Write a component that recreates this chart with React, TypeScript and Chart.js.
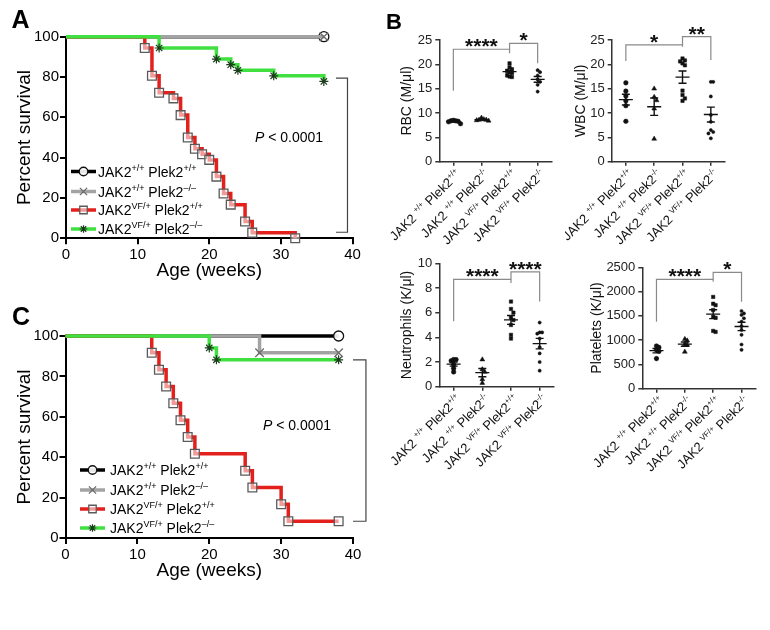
import React, { useEffect, useRef } from 'react';
import { Chart, registerables } from 'chart.js';
Chart.register(...registerables);

const FONT = '"Liberation Sans", Arial, Helvetica, sans-serif';

type Run = { t: string; sup?: boolean };

// ---------------- Panel A (Kaplan–Meier) ----------------
const A_WT_WEEKS = [0, 36];
const A_WT_SURV = [100, 100];
const A_KO_WEEKS = [0, 36];
const A_KO_SURV = [100, 100];
const A_VF_WEEKS = [0, 11, 12, 13, 15, 16, 17, 18, 19, 20, 21, 22, 23, 25, 26, 32];
const A_VF_SURV = [100, 94.4, 80.6, 72.2, 69.4, 61.1, 50, 44.4, 41.7, 38.9, 30.6, 22.2, 16.7, 8.3, 2.8, 0];
const A_VFKO_WEEKS = [0, 13, 21, 23, 24, 29, 36];
const A_VFKO_SURV = [100, 94.4, 88.9, 86.1, 83.3, 80.6, 77.8];

// ---------------- Panel C (Kaplan–Meier) ----------------
const C_WT_WEEKS = [0, 38];
const C_WT_SURV = [100, 100];
const C_KO_WEEKS = [0, 27, 38];
const C_KO_SURV = [100, 91.7, 91.7];
const C_VF_WEEKS = [0, 12, 13, 14, 15, 16, 17, 18, 25, 26, 30, 31, 38];
const C_VF_SURV = [100, 91.7, 83.3, 75, 66.7, 58.3, 50, 41.7, 33.3, 25, 16.7, 8.3, 8.3];
const C_VFKO_WEEKS = [0, 20, 21, 38];
const C_VFKO_SURV = [100, 94.1, 88.2, 88.2];

const SURV_X_TICKS = [0, 10, 20, 30, 40];
const SURV_Y_TICKS = [0, 20, 40, 60, 80, 100];
const P_TEXT = '< 0.0001';

const LEGEND_LABELS: Run[][] = [
  [{ t: 'JAK2' }, { t: '+/+', sup: true }, { t: ' Plek2' }, { t: '+/+', sup: true }],
  [{ t: 'JAK2' }, { t: '+/+', sup: true }, { t: ' Plek2' }, { t: '\u2013/\u2013', sup: true }],
  [{ t: 'JAK2' }, { t: 'VF/+', sup: true }, { t: ' Plek2' }, { t: '+/+', sup: true }],
  [{ t: 'JAK2' }, { t: 'VF/+', sup: true }, { t: ' Plek2' }, { t: '\u2013/\u2013', sup: true }],
];

// ---------------- Panel B (scatter) ----------------
const B_LABELS: Run[][] = [
  [{ t: 'JAK2 ' }, { t: '+/+', sup: true }, { t: ' Plek2' }, { t: '+/+', sup: true }],
  [{ t: 'JAK2 ' }, { t: '+/+', sup: true }, { t: ' Plek2' }, { t: '-/-', sup: true }],
  [{ t: 'JAK2 ' }, { t: 'VF/+', sup: true }, { t: ' Plek2' }, { t: '+/+', sup: true }],
  [{ t: 'JAK2 ' }, { t: 'VF/+', sup: true }, { t: ' Plek2' }, { t: '-/-', sup: true }],
];

const RBC_WT = [8.3, 8.4, 8.5, 8.2, 7.8, 8.4];
const RBC_KO = [8.5, 8.6, 8.7, 8.4, 9.0, 8.6];
const RBC_VF = [20.2, 19.4, 19.0, 18.7, 18.4, 18.2, 17.7, 17.5, 17.4];
const RBC_VFKO = [18.8, 18.4, 17.7, 16.9, 16.4, 15.8, 14.4];

const WBC_WT = [16.2, 14.5, 13.5, 12.5, 11.5, 8.3];
const WBC_KO = [15.0, 13.3, 12.6, 10.9, 4.7];
const WBC_VF = [21.2, 20.8, 20.6, 20.2, 19.8, 14.6, 13.7, 13.0, 12.5];
const WBC_VFKO = [16.4, 16.4, 13.4, 9.6, 8.2, 6.5, 6.1, 5.8, 4.8];

const NEU_WT = [2.2, 2.2, 2.1, 1.8, 1.5, 1.2];
const NEU_KO = [2.2, 1.4, 1.2, 0.6, 0.3];
const NEU_VF = [6.9, 6.3, 6.0, 5.6, 5.4, 5.0, 4.2, 3.9];
const NEU_VFKO = [5.2, 4.4, 4.4, 4.3, 3.9, 3.2, 2.7, 2.0, 1.3];

const PLT_WT = [880, 850, 800, 770, 620];
const PLT_KO = [1020, 990, 920, 900, 760];
const PLT_VF = [1890, 1750, 1720, 1620, 1480, 1460, 1190, 1170];
const PLT_VFKO = [1600, 1550, 1520, 1450, 1380, 1290, 1210, 1110, 910, 800];

const B_MARKERS = ['circle', 'triangle', 'rect', 'circle'];
const B_MARKER_R = [2.3, 2.8, 2.4, 1.6];

// ---------------- helpers ----------------
function drawRich(ctx: CanvasRenderingContext2D, runs: Run[], x: number, y: number, size: number, color: string, align: 'left' | 'right') {
  ctx.save();
  ctx.fillStyle = color;
  ctx.textBaseline = 'alphabetic';
  ctx.textAlign = 'left';
  const supSize = Math.round(size * 0.62);
  const widths = runs.map((r) => {
    ctx.font = `${r.sup ? supSize : size}px ${FONT}`;
    return ctx.measureText(r.t).width;
  });
  const total = widths.reduce((a, b) => a + b, 0);
  let cx = align === 'right' ? x - total : x;
  runs.forEach((r, i) => {
    ctx.font = `${r.sup ? supSize : size}px ${FONT}`;
    ctx.fillText(r.t, cx, r.sup ? y - size * 0.4 : y);
    cx += widths[i];
  });
  ctx.restore();
}

function drawMarker(ctx: CanvasRenderingContext2D, style: string, x: number, y: number, r: number, stroke: string, fill: string, lw: number) {
  ctx.save();
  ctx.strokeStyle = stroke;
  ctx.fillStyle = fill;
  ctx.lineWidth = lw;
  ctx.beginPath();
  const s = r * Math.SQRT1_2;
  if (style === 'circle') {
    ctx.arc(x, y, r, 0, Math.PI * 2);
    ctx.fill();
    ctx.stroke();
  } else if (style === 'rect') {
    ctx.rect(x - s, y - s, 2 * s, 2 * s);
    ctx.fill();
    ctx.stroke();
  } else if (style === 'crossRot') {
    ctx.moveTo(x - s, y - s); ctx.lineTo(x + s, y + s);
    ctx.moveTo(x + s, y - s); ctx.lineTo(x - s, y + s);
    ctx.stroke();
  } else if (style === 'star') {
    ctx.moveTo(x, y - r); ctx.lineTo(x, y + r);
    ctx.moveTo(x - r, y); ctx.lineTo(x + r, y);
    ctx.moveTo(x - s, y - s); ctx.lineTo(x + s, y + s);
    ctx.moveTo(x + s, y - s); ctx.lineTo(x - s, y + s);
    ctx.stroke();
  }
  ctx.restore();
}

function swarm(values: number[], thr: number): number[] {
  const placed: { y: number; k: number }[] = [];
  const order = values.map((_, i) => i).sort((a, b) => values[b] - values[a]);
  const offs = new Array(values.length).fill(0);
  const seq = [0, 1, -1, 2, -2, 3, -3, 4, -4];
  for (const i of order) {
    for (const k of seq) {
      if (!placed.some((p) => p.k === k && Math.abs(p.y - values[i]) < thr)) {
        placed.push({ y: values[i], k });
        offs[i] = k;
        break;
      }
    }
  }
  return offs;
}

// ---------------- Survival panel ----------------
type Series = {
  weeks: number[]; surv: number[]; color: string; width: number;
  marker: string; mRadius: number; mStroke: string; mFill: string; mWidth: number;
};

type SurvProps = {
  box: [number, number, number, number];
  area: [number, number, number, number];
  series: Series[];
  legend: { x1: number; x2: number; tx: number; rows: number[] };
  pPos: [number, number];
  bracket: { x1: number; x2: number; yTop: number; yBot: number };
};

function SurvivalPanel({ box, area, series, legend, pPos, bracket }: SurvProps) {
  const ref = useRef<HTMLCanvasElement>(null);
  useEffect(() => {
    const [cx, cy, cw, ch] = box;
    const [l, t, r, b] = area;
    const extras = {
      id: 'survExtras',
      afterDraw(chart: any) {
        const ctx: CanvasRenderingContext2D = chart.ctx;
        const xs = chart.scales.x, ys = chart.scales.y;
        series.forEach((s, i) => {
          const y = legend.rows[i];
          ctx.save();
          ctx.strokeStyle = s.color;
          ctx.lineWidth = s.width;
          ctx.beginPath();
          ctx.moveTo(legend.x1, y);
          ctx.lineTo(legend.x2, y);
          ctx.stroke();
          ctx.restore();
          drawMarker(ctx, s.marker, (legend.x1 + legend.x2) / 2, y, s.mRadius * 0.85, s.mStroke, s.mFill, s.mWidth);
          drawRich(ctx, LEGEND_LABELS[i], legend.tx, y + 5, 14, '#000', 'left');
        });
        ctx.save();
        ctx.fillStyle = '#000';
        ctx.textBaseline = 'alphabetic';
        ctx.font = `italic 14px ${FONT}`;
        ctx.fillText('P', pPos[0], pPos[1]);
        const pw = ctx.measureText('P').width;
        ctx.font = `14px ${FONT}`;
        ctx.fillText(' ' + P_TEXT, pPos[0] + pw, pPos[1]);
        ctx.restore();
        const bx1 = xs.getPixelForValue(bracket.x1), bx2 = xs.getPixelForValue(bracket.x2);
        const byT = ys.getPixelForValue(bracket.yTop), byB = ys.getPixelForValue(bracket.yBot);
        ctx.save();
        ctx.strokeStyle = '#444';
        ctx.lineWidth = 1.2;
        ctx.beginPath();
        ctx.moveTo(bx1, byT); ctx.lineTo(bx2, byT); ctx.lineTo(bx2, byB); ctx.lineTo(bx1, byB);
        ctx.stroke();
        ctx.restore();
      },
    };
    const n = series.length;
    const chart = new Chart(ref.current as HTMLCanvasElement, {
      type: 'line',
      data: {
        datasets: series.map((s, i) => ({
          data: s.weeks.map((w, j) => ({ x: w, y: s.surv[j] })),
          order: n - i,
          borderColor: s.color,
          borderWidth: s.width,
          stepped: 'before',
          fill: false,
          tension: 0,
          clip: false,
          pointStyle: s.marker,
          pointRadius: (c: any) => (c.dataIndex === 0 ? 0 : s.mRadius),
          pointBorderColor: s.mStroke,
          pointBackgroundColor: s.mFill,
          pointBorderWidth: s.mWidth,
        })) as any,
      },
      options: {
        responsive: false,
        animation: false,
        events: [],
        layout: { padding: { left: 0, top: t - cy, right: cx + cw - r, bottom: 0 } },
        plugins: { legend: { display: false }, tooltip: { enabled: false } },
        scales: {
          x: {
            type: 'linear', min: 0, max: 40,
            afterBuildTicks: (s: any) => { s.ticks = SURV_X_TICKS.map((v) => ({ value: v })); },
            afterFit: (s: any) => { s.height = cy + ch - b; },
            ticks: { color: '#000', font: { family: FONT, size: 15 }, padding: 2, maxRotation: 0, autoSkip: false, callback: (v: any) => String(v) },
            grid: { drawOnChartArea: false, drawTicks: true, tickLength: 6, tickWidth: 2, tickColor: '#000', lineWidth: 2 },
            border: { display: true, color: '#000', width: 2 },
            title: { display: true, text: 'Age (weeks)', color: '#000', font: { family: FONT, size: 19 }, padding: { top: 0, bottom: 18 } },
          },
          y: {
            type: 'linear', min: 0, max: 100,
            afterBuildTicks: (s: any) => { s.ticks = SURV_Y_TICKS.map((v) => ({ value: v })); },
            afterFit: (s: any) => { s.width = l - cx; },
            ticks: { color: '#000', font: { family: FONT, size: 15 }, padding: 1, autoSkip: false, callback: (v: any) => String(v) },
            grid: { drawOnChartArea: false, drawTicks: true, tickLength: 6, tickWidth: 2, tickColor: '#000', lineWidth: 2 },
            border: { display: true, color: '#000', width: 2 },
            title: { display: true, text: 'Percent survival', color: '#000', font: { family: FONT, size: 19 }, padding: { top: 13, bottom: 0 } },
          },
        },
      } as any,
      plugins: [extras],
    });
    return () => chart.destroy();
  }, []);
  return (
    <canvas ref={ref} width={box[2]} height={box[3]}
      style={{ position: 'absolute', left: box[0], top: box[1], width: box[2], height: box[3] }} />
  );
}

// ---------------- Scatter panel ----------------
type Bracket = { x1: number; x2: number; y: number; y1: number; y2: number; label: string };
type ScatterProps = {
  box: [number, number, number, number];
  area: [number, number, number, number];
  groups: number[][];
  yMax: number;
  yStep: number;
  title: string;
  titlePad: number;
  brackets: Bracket[];
};

function ScatterPanel({ box, area, groups, yMax, yStep, title, titlePad, brackets }: ScatterProps) {
  const ref = useRef<HTMLCanvasElement>(null);
  useEffect(() => {
    const [cx, cy, cw, ch] = box;
    const [l, t, r, b] = area;
    const extras = {
      id: 'scatterExtras',
      afterDatasetsDraw(chart: any) {
        const ctx: CanvasRenderingContext2D = chart.ctx;
        const xs = chart.scales.x, ys = chart.scales.y;
        groups.forEach((vals, gi) => {
          const n = vals.length;
          const mean = vals.reduce((a, v) => a + v, 0) / n;
          const sd = Math.sqrt(vals.reduce((a, v) => a + (v - mean) ** 2, 0) / (n - 1));
          const sem = sd / Math.sqrt(n);
          const px = xs.getPixelForValue(gi);
          const pm = ys.getPixelForValue(mean);
          const pt = ys.getPixelForValue(mean + sem);
          const pb = ys.getPixelForValue(mean - sem);
          ctx.save();
          ctx.strokeStyle = '#111';
          ctx.lineWidth = 1.4;
          ctx.beginPath();
          ctx.moveTo(px - 7, pm); ctx.lineTo(px + 7, pm);
          ctx.moveTo(px, pt); ctx.lineTo(px, pb);
          ctx.moveTo(px - 4, pt); ctx.lineTo(px + 4, pt);
          ctx.moveTo(px - 4, pb); ctx.lineTo(px + 4, pb);
          ctx.stroke();
          ctx.restore();
        });
        brackets.forEach((br) => {
          const x1 = xs.getPixelForValue(br.x1), x2 = xs.getPixelForValue(br.x2);
          const y = ys.getPixelForValue(br.y), y1 = ys.getPixelForValue(br.y1), y2 = ys.getPixelForValue(br.y2);
          ctx.save();
          ctx.strokeStyle = '#8a8a8a';
          ctx.lineWidth = 1.2;
          ctx.beginPath();
          ctx.moveTo(x1, y1); ctx.lineTo(x1, y); ctx.lineTo(x2, y); ctx.lineTo(x2, y2);
          ctx.stroke();
          ctx.fillStyle = '#111';
          ctx.font = `bold 21px ${FONT}`;
          ctx.textAlign = 'center';
          ctx.textBaseline = 'alphabetic';
          ctx.fillText(br.label, (x1 + x2) / 2, y + 4);
          ctx.restore();
        });
        B_LABELS.forEach((runs, gi) => {
          const px = xs.getPixelForValue(gi);
          ctx.save();
          ctx.translate(px + 5, b - cy + 10);
          ctx.rotate(-Math.PI / 4);
          drawRich(ctx, runs, 0, 4.5, 13, '#111', 'right');
          ctx.restore();
        });
      },
    };
    const chart = new Chart(ref.current as HTMLCanvasElement, {
      type: 'scatter',
      data: {
        datasets: groups.map((vals, gi) => {
          const offs = swarm(vals, yMax * 0.03);
          return {
            data: vals.map((v, j) => ({ x: gi + offs[j] * 0.085, y: v })),
            pointStyle: B_MARKERS[gi],
            pointRadius: B_MARKER_R[gi],
            pointBackgroundColor: '#111',
            pointBorderColor: '#111',
            pointBorderWidth: 0.5,
            clip: false,
          };
        }) as any,
      },
      options: {
        responsive: false,
        animation: false,
        events: [],
        layout: { padding: { left: 0, top: t - cy, right: cx + cw - r, bottom: 0 } },
        plugins: { legend: { display: false }, tooltip: { enabled: false } },
        scales: {
          x: {
            type: 'linear', min: -0.5, max: 3.5,
            afterBuildTicks: (s: any) => { s.ticks = [0, 1, 2, 3].map((v) => ({ value: v })); },
            afterFit: (s: any) => { s.height = cy + ch - b; },
            ticks: { display: false },
            grid: { drawOnChartArea: false, drawTicks: true, tickLength: 4, tickWidth: 1.5, tickColor: '#333', lineWidth: 1.5 },
            border: { display: true, color: '#333', width: 1.5 },
          },
          y: {
            type: 'linear', min: 0, max: yMax,
            ticks: { stepSize: yStep, color: '#222', font: { family: FONT, size: 13 }, padding: 3, callback: (v: any) => String(v) },
            afterFit: (s: any) => { s.width = l - cx; },
            grid: { drawOnChartArea: false, drawTicks: true, tickLength: 4, tickWidth: 1.5, tickColor: '#333', lineWidth: 1.5 },
            border: { display: true, color: '#333', width: 1.5 },
            title: { display: true, text: title, color: '#111', font: { family: FONT, size: 14 }, padding: { top: titlePad, bottom: 0 } },
          },
        },
      } as any,
      plugins: [extras],
    });
    return () => chart.destroy();
  }, []);
  return (
    <canvas ref={ref} width={box[2]} height={box[3]}
      style={{ position: 'absolute', left: box[0], top: box[1], width: box[2], height: box[3] }} />
  );
}

// ---------------- series styles ----------------
const styleWT = { color: '#000000', width: 3.5, marker: 'circle', mRadius: 5, mStroke: '#111', mFill: 'rgba(255,255,255,0.9)', mWidth: 1.3 };
const styleKO = { color: '#a3a3a3', width: 3.5, marker: 'crossRot', mRadius: 6, mStroke: '#6a6a6a', mFill: 'rgba(0,0,0,0)', mWidth: 1.3 };
const styleVF = { color: '#e3201c', width: 3.5, marker: 'rect', mRadius: 6.2, mStroke: '#5a5a5a', mFill: 'rgba(255,255,255,0.55)', mWidth: 1.3 };
const styleVFKO = { color: '#3fe03f', width: 3.5, marker: 'star', mRadius: 4.5, mStroke: '#1c3a1c', mFill: 'rgba(0,0,0,0)', mWidth: 1.2 };

const letterStyle = (left: number, top: number, size: number): React.CSSProperties => ({
  position: 'absolute', left, top, fontFamily: FONT, fontWeight: 'bold', fontSize: size, lineHeight: `${size}px`, color: '#000',
});

export default function App() {
  const seriesA: Series[] = [
    { weeks: A_WT_WEEKS, surv: A_WT_SURV, ...styleWT },
    { weeks: A_KO_WEEKS, surv: A_KO_SURV, ...styleKO },
    { weeks: A_VF_WEEKS, surv: A_VF_SURV, ...styleVF },
    { weeks: A_VFKO_WEEKS, surv: A_VFKO_SURV, ...styleVFKO },
  ];
  const seriesC: Series[] = [
    { weeks: C_WT_WEEKS, surv: C_WT_SURV, ...styleWT },
    { weeks: C_KO_WEEKS, surv: C_KO_SURV, ...styleKO },
    { weeks: C_VF_WEEKS, surv: C_VF_SURV, ...styleVF },
    { weeks: C_VFKO_WEEKS, surv: C_VFKO_SURV, ...styleVFKO },
  ];
  return (
    <div style={{ position: 'absolute', left: 0, top: 0, width: 770, height: 630, background: '#fff', overflow: 'hidden' }}>
      <SurvivalPanel
        box={[0, 0, 390, 300]}
        area={[66, 36.7, 352.5, 238.3]}
        series={seriesA}
        legend={{ x1: 71, x2: 96, tx: 98, rows: [171.5, 191.5, 210, 229] }}
        pPos={[255, 142]}
        bracket={{ x1: 37.7, x2: 39.3, yTop: 79.5, yBot: 3 }}
      />
      <SurvivalPanel
        box={[0, 300, 390, 300]}
        area={[65.5, 336, 353, 538]}
        series={seriesC}
        legend={{ x1: 80, x2: 105, tx: 110, rows: [170, 190, 209, 228] }}
        pPos={[263, 130]}
        bracket={{ x1: 40, x2: 41.8, yTop: 88.2, yBot: 8.3 }}
      />
      <ScatterPanel
        box={[380, 0, 185, 250]} area={[439.3, 40, 551.7, 161.7]}
        groups={[RBC_WT, RBC_KO, RBC_VF, RBC_VFKO]} yMax={25} yStep={5}
        title={'RBC (M/\u03bcl)'} titlePad={19}
        brackets={[
          { x1: 0, x2: 2, y: 23.1, y1: 14.6, y2: 22.3, label: '****' },
          { x1: 2, x2: 3, y: 24.3, y1: 23.1, y2: 20.2, label: '*' },
        ]}
      />
      <ScatterPanel
        box={[565, 0, 200, 250]} area={[611.7, 40, 725, 161.7]}
        groups={[WBC_WT, WBC_KO, WBC_VF, WBC_VFKO]} yMax={25} yStep={5}
        title={'WBC (M/\u03bcl)'} titlePad={7.6}
        brackets={[
          { x1: 0, x2: 2, y: 24.0, y1: 20.7, y2: 23.6, label: '*' },
          { x1: 2, x2: 3, y: 25.7, y1: 24.0, y2: 20.9, label: '**' },
        ]}
      />
      <ScatterPanel
        box={[380, 250, 185, 250]} area={[439.3, 263.3, 554, 386.7]}
        groups={[NEU_WT, NEU_KO, NEU_VF, NEU_VFKO]} yMax={10} yStep={2}
        title={'Neutrophils (K/\u03bcl)'} titlePad={18.3}
        brackets={[
          { x1: 0, x2: 2, y: 8.7, y1: 5.3, y2: 8.4, label: '****' },
          { x1: 2, x2: 3, y: 9.3, y1: 8.7, y2: 6.9, label: '****' },
        ]}
      />
      <ScatterPanel
        box={[570, 250, 200, 250]} area={[642.3, 267.3, 755.7, 388.7]}
        groups={[PLT_WT, PLT_KO, PLT_VF, PLT_VFKO]} yMax={2500} yStep={500}
        title={'Platelets (K/\u03bcl)'} titlePad={19}
        brackets={[
          { x1: 0, x2: 2, y: 2253, y1: 1380, y2: 2200, label: '****' },
          { x1: 2, x2: 3, y: 2397, y1: 2253, y2: 1792, label: '*' },
        ]}
      />
      <div style={letterStyle(11.5, 7, 25)}>A</div>
      <div style={letterStyle(386, 10.5, 22)}>B</div>
      <div style={letterStyle(12, 304, 25)}>C</div>
    </div>
  );
}
